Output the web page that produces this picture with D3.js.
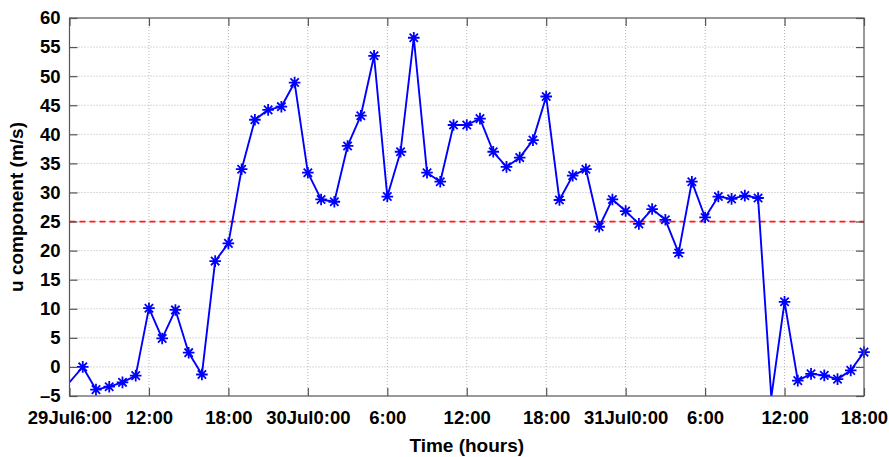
<!DOCTYPE html>
<html>
<head>
<meta charset="utf-8">
<script src="https://cdn.jsdelivr.net/npm/d3@7"></script>
<style>
  html, body { margin: 0; padding: 0; background: #fff; }
  svg { display: block; }
  text { font-family: "Liberation Sans", Arial, Helvetica, sans-serif; font-weight: bold; fill: #000; }
</style>
</head>
<body>
<svg id="chart" width="889" height="457"></svg>
<script>
// Hours since 29 Jul 0:00
const hours = [5,6,7,8,9,10,11,12,13,14,15,16,17,18,19,20,21,22,23,24,25,26,27,28,29,30,31,32,33,34,35,36,37,38,39,40,41,42,43,44,45,46,47,48,49,50,51,52,53,54,55,56,57,58,59,60,61,62,63,64,65,66];
const uValues = [-5.3,null,0.0,-3.9,-3.4,-2.65,-1.5,10.1,4.9,9.8,2.45,-1.3,18.2,21.25,34.0,42.5,44.2,44.75,48.9,33.4,28.8,28.4,38.0,43.2,53.5,29.3,37.0,56.6,33.4,31.85,41.6,41.6,42.7,37.0,34.4,36.0,39.0,46.5,28.7,32.9,34.0,24.1,28.8,26.8,24.6,27.15,25.3,19.6,31.85,25.7,29.3,28.9,29.45,29.05,-5.2,11.2,-2.35,-1.2,-1.45,-2.1,-0.6,2.55];
const threshold = 25;
const xTickValues = [6,12,18,24,30,36,42,48,54,60,66];
const xTickLabels = ["29Jul6:00","12:00","18:00","30Jul0:00","6:00","12:00","18:00","31Jul0:00","6:00","12:00","18:00"];
const yTickValues = [-5,0,5,10,15,20,25,30,35,40,45,50,55,60];
const yTickLabels = ["\u20135","0","5","10","15","20","25","30","35","40","45","50","55","60"];

const L = 69.5, R = 864, T = 18, B = 396;
const svg = d3.select("#chart");
const x = d3.scaleLinear().domain([6, 66]).range([L, R]);
const y = d3.scaleLinear().domain([-5, 60]).range([B, T]);

// data (skip nulls: 6:00 has no sample)
const data = hours.map((h, i) => ({h, v: uValues[i]})).filter(d => d.v !== null);

svg.append("defs").append("clipPath").attr("id", "clip")
  .append("rect").attr("x", L).attr("y", T).attr("width", R - L).attr("height", B - T);

// grid
const grid = svg.append("g");
grid.selectAll("line.gx").data(xTickValues.slice(1, -1)).enter().append("line")
  .attr("x1", d => x(d)).attr("x2", d => x(d)).attr("y1", T).attr("y2", B)
  .attr("stroke", "#b4b4b4").attr("stroke-width", 1).attr("stroke-dasharray", "1,2");
grid.selectAll("line.gy").data(yTickValues.slice(1, -1)).enter().append("line")
  .attr("x1", L).attr("x2", R).attr("y1", d => y(d)).attr("y2", d => y(d))
  .attr("stroke", "#b4b4b4").attr("stroke-width", 1).attr("stroke-dasharray", "1,2");

// threshold line
svg.append("line")
  .attr("x1", L).attr("x2", R).attr("y1", y(threshold)).attr("y2", y(threshold))
  .attr("stroke", "#ff1a1a").attr("stroke-width", 1.8).attr("stroke-dasharray", "6,4");

// series
const plot = svg.append("g").attr("clip-path", "url(#clip)");
plot.append("path").datum(data)
  .attr("fill", "none").attr("stroke", "#0000ff").attr("stroke-width", 1.9)
  .attr("stroke-linejoin", "round")
  .attr("d", d3.line().x(d => x(d.h)).y(d => y(d.v)));

const r = 5.8, rd = r * 0.72;
const markerPath = `M${-r},0L${r},0M0,${-r}L0,${r}M${-rd},${-rd}L${rd},${rd}M${-rd},${rd}L${rd},${-rd}`;
const markers = svg.append("g");
markers.selectAll("path").data(data.filter(d => d.h >= 6 && d.h <= 66 && d.v >= -5 && d.v <= 60)).enter()
  .append("path")
  .attr("transform", d => `translate(${x(d.h)},${y(d.v)})`)
  .attr("d", markerPath)
  .attr("stroke", "#0000ff").attr("stroke-width", 1.8).attr("fill", "none");

// axes frame and ticks (inward ticks on all sides)
const frameColor = "#555";
const tl = 8;
svg.append("rect").attr("x", L).attr("y", T).attr("width", R - L).attr("height", B - T)
  .attr("fill", "none").attr("stroke", frameColor).attr("stroke-width", 1.2);

const bottomAxis = d3.axisBottom(x).tickValues(xTickValues).tickSizeInner(-tl).tickSizeOuter(0)
  .tickFormat((d, i) => xTickLabels[i]).tickPadding(15);
const gB = svg.append("g").attr("transform", `translate(0,${B})`).call(bottomAxis);
const topAxis = d3.axisTop(x).tickValues(xTickValues).tickSizeInner(-tl).tickSizeOuter(0).tickFormat("");
const gT = svg.append("g").attr("transform", `translate(0,${T})`).call(topAxis);
const leftAxis = d3.axisLeft(y).tickValues(yTickValues).tickSizeInner(-tl).tickSizeOuter(0)
  .tickFormat((d, i) => yTickLabels[i]).tickPadding(9);
const gL = svg.append("g").attr("transform", `translate(${L},0)`).call(leftAxis);
const rightAxis = d3.axisRight(y).tickValues(yTickValues).tickSizeInner(-tl).tickSizeOuter(0).tickFormat("");
const gR = svg.append("g").attr("transform", `translate(${R},0)`).call(rightAxis);

[gB, gT, gL, gR].forEach(g => {
  g.select(".domain").remove();
  g.selectAll(".tick line").attr("stroke", frameColor).attr("stroke-width", 1.2);
  g.selectAll("text").attr("font-family", "'Liberation Sans', Arial, sans-serif")
    .attr("font-weight", "bold").attr("font-size", 18.5).attr("fill", "#000");
});

// axis titles
svg.append("text").attr("x", (L + R) / 2).attr("y", 452).attr("text-anchor", "middle")
  .attr("font-size", 19).text("Time (hours)");
svg.append("text").attr("transform", `translate(23,${(T + B) / 2}) rotate(-90)`)
  .attr("text-anchor", "middle").attr("font-size", 19).text("u component (m/s)");
</script>
</body>
</html>
